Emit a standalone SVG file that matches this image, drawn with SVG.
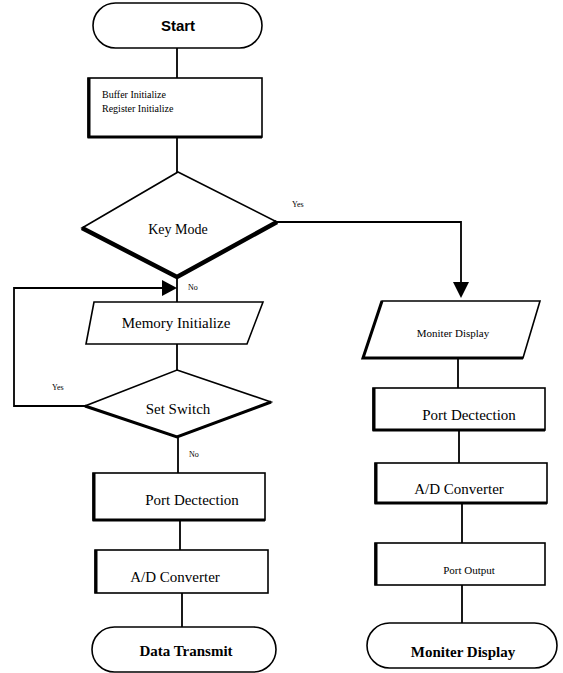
<svg xmlns="http://www.w3.org/2000/svg" width="563" height="673" viewBox="0 0 563 673">
<style>
.s{fill:#fff;stroke:#000;stroke-width:1.6}
.thk{fill:none;stroke:#000;stroke-width:3}
.thk4{fill:none;stroke:#000;stroke-width:4.5;stroke-linejoin:miter}
.c{fill:none;stroke:#000;stroke-width:1.8}
.t{font-family:"Liberation Serif","Times New Roman",serif;fill:#000;text-anchor:middle}
.b{font-weight:bold}
.sm{font-size:10px}
.md{font-size:15px}
.lb{font-family:"Liberation Serif",serif;font-size:8px;fill:#000}
</style>
<defs>
<marker id="ah" viewBox="0 0 10 10" refX="10" refY="5" markerWidth="6" markerHeight="6" markerUnits="userSpaceOnUse" orient="auto">
<path d="M0,0 L10,5 L0,10 z" fill="#000"/>
</marker>
</defs>
<g id="connectors">
<line class="c" x1="177" y1="48" x2="177" y2="78"/>
<line class="c" x1="177" y1="137" x2="177" y2="172"/>
<line class="c" x1="177" y1="277" x2="177" y2="302"/>
<line class="c" x1="177" y1="344" x2="177" y2="370"/>
<line class="c" x1="178" y1="437" x2="178" y2="473"/>
<line class="c" x1="180" y1="520" x2="180" y2="550"/>
<line class="c" x1="182" y1="593" x2="182" y2="627"/>
<polyline class="c" points="277,222 461,222 461,284"/>
<path d="M453,282 L469,282 L461,298 z" fill="#000"/>
<polyline class="c" points="85,406 14,406 14,288 163,288"/>
<path d="M162,280 L162,296 L177,288 z" fill="#000"/>
<line class="c" x1="458" y1="358" x2="458" y2="388"/>
<line class="c" x1="459" y1="430" x2="459" y2="463"/>
<line class="c" x1="462" y1="503" x2="462" y2="543"/>
<line class="c" x1="462" y1="585" x2="462" y2="623"/>
<text class="lb" x="292" y="207">Yes</text>
<text class="lb" x="188" y="290">No</text>
<text class="lb" x="52" y="390">Yes</text>
<text class="lb" x="189" y="457">No</text>
</g>
<g id="start">
<rect class="s" x="93" y="3" width="169" height="45" rx="22.5"/>
<text x="178" y="31" font-family="Liberation Sans,Arial,sans-serif" font-weight="bold" font-size="15" text-anchor="middle">Start</text>
</g>
<g id="init">
<rect class="s" x="88" y="78" width="174" height="59"/>
<polyline class="thk" points="89,78 89,137 262,137"/>
<text class="t sm" x="102" y="98" text-anchor="start" style="text-anchor:start">Buffer Initialize</text>
<text class="t sm" x="102" y="112" style="text-anchor:start">Register Initialize</text>
</g>
<g id="keymode">
<polygon class="s" points="178,172 277,222 177,277 82,228"/>
<polyline class="thk4" points="82,228 177,277 277,222"/>
<text class="t" x="178" y="234" font-size="14">Key Mode</text>
</g>
<g id="memory">
<polygon class="s" points="94,302 263,302 247,344 86,344"/>
<text class="t md" x="176" y="328">Memory Initialize</text>
</g>
<g id="setswitch">
<polygon class="s" points="177,370 271,402 177,437 85,406"/>
<polyline class="thk" points="85,406 177,437 271,402"/>
<text class="t md" x="178" y="414">Set Switch</text>
</g>
<g id="portdet-left">
<rect class="s" x="93" y="473" width="172" height="47"/>
<polyline class="thk" points="94,473 94,520 265,520"/>
<text class="t md" x="192" y="505">Port Dectection</text>
</g>
<g id="ad-left">
<rect class="s" x="95" y="550" width="173" height="43"/>
<polyline class="thk" points="96,550 96,593"/>
<text class="t md" x="175" y="582">A/D Converter</text>
</g>
<g id="datatransmit">
<rect class="s" x="92" y="627" width="184" height="45" rx="22.5"/>
<text class="t md b" x="186" y="656">Data Transmit</text>
</g>
<g id="moniter-io">
<polygon class="s" points="382,301 540,301 523,358 363,358"/>
<polyline class="thk" points="382,301 363,358 523,358"/>
<text class="t" x="453" y="337" font-size="11">Moniter Display</text>
</g>
<g id="portdet-right">
<rect class="s" x="373" y="388" width="172" height="42"/>
<polyline class="thk" points="374,388 374,430 545,430"/>
<text class="t md" x="469" y="420">Port Dectection</text>
</g>
<g id="ad-right">
<rect class="s" x="375" y="463" width="172" height="40"/>
<polyline class="thk" points="376,463 376,503 547,503"/>
<text class="t md" x="459" y="494">A/D Converter</text>
</g>
<g id="portout">
<rect class="s" x="375" y="543" width="170" height="42"/>
<polyline class="thk" points="376,543 376,585"/>
<text class="t" x="469" y="574" font-size="11">Port Output</text>
</g>
<g id="moniter-end">
<rect class="s" x="367" y="623" width="190" height="45" rx="22.5"/>
<text class="t md b" x="463" y="657">Moniter Display</text>
</g>
</svg>
